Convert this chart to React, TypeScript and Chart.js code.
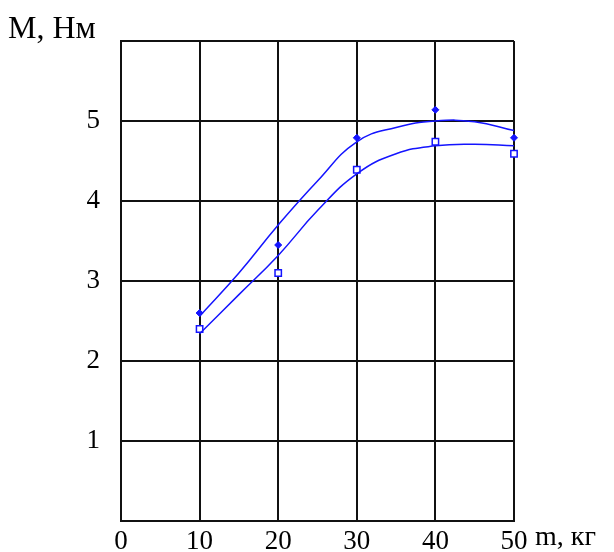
import React, { useEffect, useRef } from "react";
import { Chart, registerables } from "chart.js";

Chart.register(...registerables);

const markerX = [10, 20, 30, 40, 50];
const markersUpper = [2.6, 3.45, 4.79, 5.14, 4.79];
const markersLower = [2.4, 3.1, 4.39, 4.74, 4.59];

const curveX = [10, 15, 20, 25, 30, 35, 40, 45, 50];
const curveUpper = [2.56, 3.1, 3.7, 4.25, 4.74, 4.92, 5.0, 4.99, 4.88];
const curveLower = [2.34, 2.83, 3.32, 3.88, 4.34, 4.59, 4.69, 4.71, 4.69];

const xTicks = [0, 10, 20, 30, 40, 50];
const yTicks = [1, 2, 3, 4, 5];
const yTitle = "M, Нм";
const xTitle = "m, кг";

const BLUE = "#1414ff";
const FONT = "'Liberation Serif', 'Times New Roman', serif";

export default function App() {
  const ref = useRef<HTMLCanvasElement | null>(null);

  useEffect(() => {
    if (!ref.current) return;
    const titles = {
      id: "axisTitles",
      afterDraw(chart: any) {
        const ctx = chart.ctx;
        const a = chart.chartArea;
        ctx.save();
        ctx.fillStyle = "#000";
        ctx.textAlign = "left";
        ctx.textBaseline = "alphabetic";
        ctx.font = `32px ${FONT}`;
        ctx.fillText(yTitle, 8, 38);
        ctx.font = `28px ${FONT}`;
        ctx.fillText(xTitle, a.right + 21, 545);
        ctx.restore();
      },
    };
    const curveStyle = {
      type: "line",
      borderColor: BLUE,
      borderWidth: 1.5,
      pointRadius: 0,
      tension: 0.45,
      fill: false,
      clip: false,
    };
    const chart = new Chart(ref.current, {
      type: "scatter",
      data: {
        datasets: [
          {
            ...curveStyle,
            data: curveX.map((x, i) => ({ x, y: curveUpper[i] })),
          } as any,
          {
            ...curveStyle,
            data: curveX.map((x, i) => ({ x, y: curveLower[i] })),
          } as any,
          {
            data: markerX.map((x, i) => ({ x, y: markersUpper[i] })),
            pointStyle: "rectRot",
            pointRadius: 3.5,
            backgroundColor: BLUE,
            borderColor: BLUE,
            borderWidth: 1,
            clip: false,
          } as any,
          {
            data: markerX.map((x, i) => ({ x, y: markersLower[i] })),
            pointStyle: "rect",
            pointRadius: 4.5,
            backgroundColor: "#ffffff",
            borderColor: BLUE,
            borderWidth: 1.5,
            clip: false,
          } as any,
        ],
      },
      options: {
        responsive: false,
        animation: false,
        layout: { padding: { left: 0, right: 100, top: 41, bottom: 0 } },
        plugins: { legend: { display: false }, tooltip: { enabled: false } },
        scales: {
          x: {
            type: "linear",
            min: 0,
            max: 50,
            afterBuildTicks: (s: any) => {
              s.ticks = xTicks.map((v) => ({ value: v }));
            },
            afterFit: (s: any) => {
              s.height = 31;
              s.paddingLeft = 0;
              s.paddingRight = 0;
            },
            grid: { color: "#111", lineWidth: 2, drawTicks: false },
            border: { color: "#111", width: 2 },
            ticks: {
              color: "#000",
              padding: 5,
              font: { family: FONT, size: 27 },
              callback: (v: any) => String(v),
            },
          },
          y: {
            type: "linear",
            min: 0,
            max: 6,
            afterBuildTicks: (s: any) => {
              s.ticks = [0, ...yTicks, 6].map((v) => ({ value: v }));
            },
            afterFit: (s: any) => {
              s.width = 121;
              s.paddingTop = 0;
              s.paddingBottom = 0;
            },
            grid: { color: "#111", lineWidth: 2, drawTicks: false },
            border: { color: "#111", width: 2 },
            ticks: {
              color: "#000",
              padding: 21,
              font: { family: FONT, size: 27 },
              callback: (v: any) => (yTicks.includes(v) ? String(v) : ""),
            },
          },
        },
      },
      plugins: [titles],
    });
    return () => chart.destroy();
  }, []);

  return (
    <div style={{ position: "fixed", left: 0, top: 0, width: 614, height: 552, background: "#fff" }}>
      <canvas ref={ref} width={614} height={552} style={{ width: 614, height: 552 }} />
    </div>
  );
}
